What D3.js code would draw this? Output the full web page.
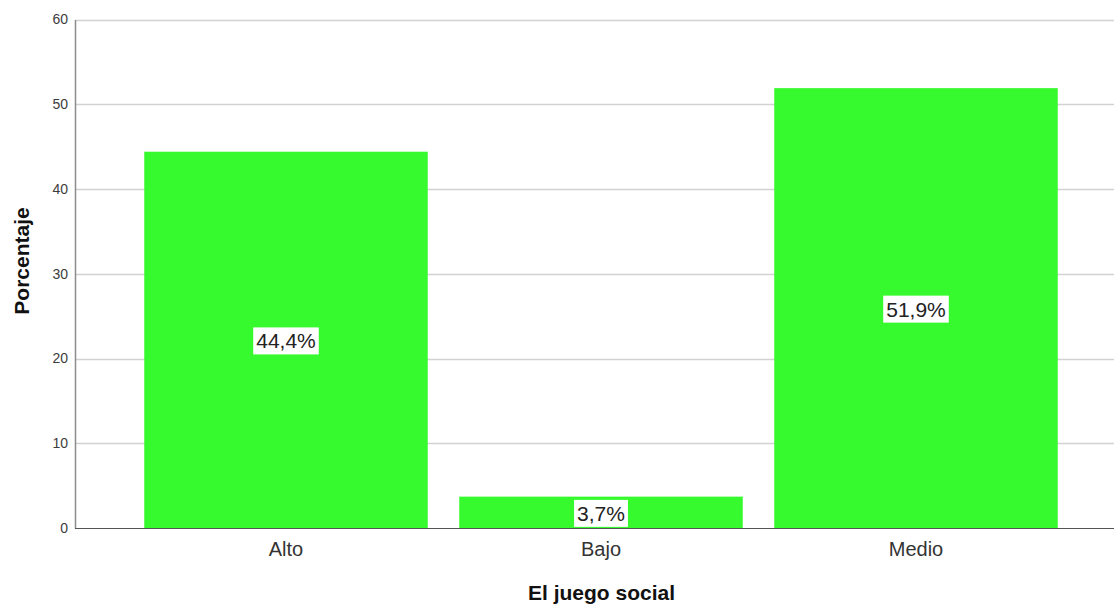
<!DOCTYPE html>
<html>
<head>
<meta charset="utf-8">
<script src="https://cdn.jsdelivr.net/npm/d3@7"></script>
<style>
  html, body { margin: 0; padding: 0; background: #fff; }
  svg { display: block; font-family: Arial, "Liberation Sans", sans-serif; }
</style>
</head>
<body>
<svg id="chart" width="1114" height="606"></svg>
<script>
// Porcentaje por nivel de "El juego social"
const categories = ["Alto", "Bajo", "Medio"];
const percentages = [44.4, 3.7, 51.9];
const yTicks = [0, 10, 20, 30, 40, 50, 60];

const svg = d3.select("#chart");
const plot = { left: 75, right: 1114, top: 19.5, bottom: 528 };

const x = d3.scaleBand()
  .domain(categories)
  .range([128.5, 1073.5])
  .paddingInner(0.1)
  .paddingOuter(0.05);

const y = d3.scaleLinear()
  .domain([0, 60])
  .range([plot.bottom, plot.top]);

// horizontal grid lines
svg.append("g")
  .selectAll("line")
  .data(yTicks.filter(d => d > 0))
  .join("line")
  .attr("x1", plot.left)
  .attr("x2", plot.right)
  .attr("y1", d => Math.round(y(d)) + 0.5)
  .attr("y2", d => Math.round(y(d)) + 0.5)
  .attr("stroke", "#d2d2d2")
  .attr("stroke-width", 1.5);

// bars
svg.append("g")
  .selectAll("rect")
  .data(categories.map((c, i) => ({ c, v: percentages[i] })))
  .join("rect")
  .attr("x", d => x(d.c))
  .attr("width", x.bandwidth())
  .attr("y", d => y(d.v))
  .attr("height", d => y(0) - y(d.v))
  .attr("fill", "#36fa2e");

// y axis
const yAxis = svg.append("g")
  .attr("transform", `translate(${plot.left},0)`)
  .call(d3.axisLeft(y).tickValues(yTicks).tickSize(0).tickPadding(7));
yAxis.select(".domain").attr("stroke", "#8c8c8c").attr("stroke-width", 1.5);
yAxis.selectAll("text")
  .attr("font-size", 14)
  .attr("fill", "#3c3c3c")
  .attr("font-family", "Arial, 'Liberation Sans', sans-serif");

// x axis
const xAxis = svg.append("g")
  .attr("transform", `translate(0,${plot.bottom})`)
  .call(d3.axisBottom(x).tickSize(0).tickPadding(14));
xAxis.select(".domain").remove();
svg.append("line")
  .attr("x1", plot.left).attr("x2", plot.right)
  .attr("y1", plot.bottom + 0.5).attr("y2", plot.bottom + 0.5)
  .attr("stroke", "#555").attr("stroke-width", 1.2);
xAxis.selectAll("text")
  .attr("font-size", 20)
  .attr("fill", "#333")
  .attr("font-family", "Arial, 'Liberation Sans', sans-serif");

// value labels centred in bars on white boxes
const fmt = v => v.toFixed(1).replace(".", ",") + "%";
const labels = svg.append("g")
  .selectAll("g")
  .data(categories.map((c, i) => ({ c, v: percentages[i] })))
  .join("g")
  .attr("transform", d => `translate(${x(d.c) + x.bandwidth() / 2},${(y(d.v) + y(0)) / 2 + 1})`);
labels.each(function(d) {
  const g = d3.select(this);
  const t = g.append("text")
    .attr("text-anchor", "middle")
    .attr("dy", "0.36em")
    .attr("font-size", 21)
    .attr("fill", "#222")
    .text(fmt(d.v));
  const bb = t.node().getBBox();
  g.insert("rect", "text")
    .attr("x", bb.x - 3)
    .attr("y", bb.y - 2)
    .attr("width", bb.width + 6)
    .attr("height", bb.height + 4)
    .attr("fill", "#fff");
});

// axis titles
svg.append("text")
  .attr("x", 601.5)
  .attr("y", 600)
  .attr("text-anchor", "middle")
  .attr("font-size", 21)
  .attr("font-weight", "bold")
  .attr("fill", "#111")
  .text("El juego social");

svg.append("text")
  .attr("transform", `translate(29,261) rotate(-90)`)
  .attr("text-anchor", "middle")
  .attr("font-size", 21)
  .attr("font-weight", "bold")
  .attr("fill", "#111")
  .text("Porcentaje");
</script>
</body>
</html>
